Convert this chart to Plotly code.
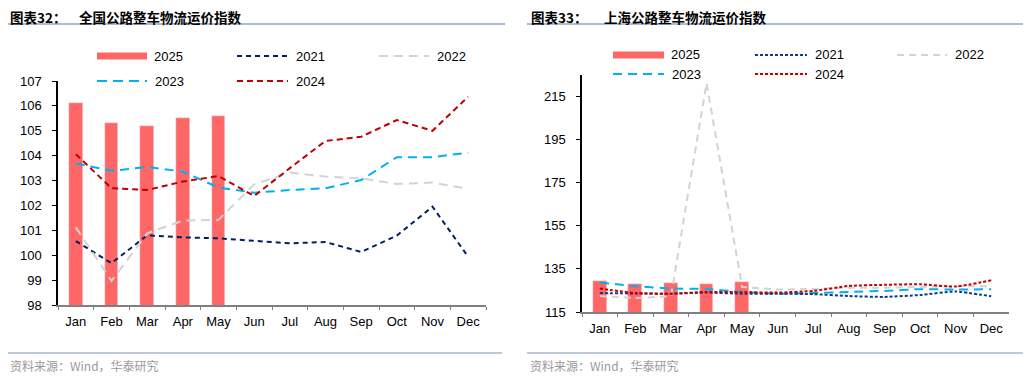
import plotly.graph_objects as go

months = ["Jan", "Feb", "Mar", "Apr", "May", "Jun", "Jul", "Aug", "Sep", "Oct", "Nov", "Dec"]

# Panel 32: national index
nat_2025 = [106.13, 105.31, 105.19, 105.50, 105.58]
nat_2021 = [100.57, 99.68, 100.80, 100.72, 100.68, 100.57, 100.48, 100.53, 100.13, 100.79, 101.95, 99.94]
nat_2022 = [101.12, 98.97, 100.88, 101.39, 101.42, 102.85, 103.32, 103.16, 103.09, 102.86, 102.92, 102.67]
nat_2023 = [103.69, 103.39, 103.55, 103.36, 102.72, 102.51, 102.62, 102.69, 103.02, 103.94, 103.94, 104.12]
nat_2024 = [104.06, 102.69, 102.62, 102.96, 103.18, 102.38, 103.50, 104.59, 104.76, 105.43, 105.00, 106.37]

# Panel 33: Shanghai index
sh_2025 = [129.4, 128.2, 128.5, 128.2, 128.7]
sh_2021 = [123.8, 123.6, 123.5, 124.0, 123.5, 123.5, 123.3, 122.4, 122.0, 122.9, 124.5, 122.3]
sh_2022 = [122.4, 121.5, 122.3, 221.2, 126.6, 125.4, 125.7, 126.3, 126.3, 126.8, 127.0, 127.0]
sh_2023 = [128.7, 127.0, 125.9, 125.7, 124.3, 123.5, 123.8, 124.3, 124.8, 125.6, 125.4, 125.6]
sh_2024 = [125.9, 123.8, 123.5, 124.3, 124.2, 124.0, 124.8, 127.1, 127.6, 127.9, 126.8, 129.7]

W, H = 1031, 378
OFF = 8  # page body margin offset
BAR = "#FF6666"
NAVY = "#002060"
NAVY2 = "#0E3C7E"
GRAY = "#D3D3D3"
BLUE = "#00B0F0"
RED = "#C00000"

fig = go.Figure()


def px(x):
    return (x - OFF) / W


def py(y):
    return 1 - (y - OFF) / H


# Left panel traces
fig.add_trace(go.Bar(x=months[:5], y=nat_2025, name="2025", marker_color=BAR, width=0.39,
                     xaxis="x", yaxis="y", showlegend=False))
fig.add_trace(go.Scatter(x=months, y=nat_2021, name="2021", mode="lines",
                         line=dict(color=NAVY, width=2, dash="5px,4px"), xaxis="x", yaxis="y", showlegend=False))
fig.add_trace(go.Scatter(x=months, y=nat_2022, name="2022", mode="lines",
                         line=dict(color=GRAY, width=2, dash="9px,6px"), xaxis="x", yaxis="y", showlegend=False))
fig.add_trace(go.Scatter(x=months, y=nat_2023, name="2023", mode="lines",
                         line=dict(color=BLUE, width=2, dash="9px,6px"), xaxis="x", yaxis="y", showlegend=False))
fig.add_trace(go.Scatter(x=months, y=nat_2024, name="2024", mode="lines",
                         line=dict(color=RED, width=2, dash="6px,4px"), xaxis="x", yaxis="y", showlegend=False))

# Right panel traces
fig.add_trace(go.Bar(x=months[:5], y=sh_2025, name="2025", marker_color=BAR, width=0.39,
                     xaxis="x2", yaxis="y2", showlegend=False))
fig.add_trace(go.Scatter(x=months, y=sh_2022, name="2022", mode="lines",
                         line=dict(color=GRAY, width=2, dash="7px,5px"), xaxis="x2", yaxis="y2", showlegend=False))
fig.add_trace(go.Scatter(x=months, y=sh_2023, name="2023", mode="lines",
                         line=dict(color=BLUE, width=2, dash="9px,6px", shape="spline", smoothing=0.5),
                         xaxis="x2", yaxis="y2", showlegend=False))
fig.add_trace(go.Scatter(x=months, y=sh_2021, name="2021", mode="lines",
                         line=dict(color=NAVY2, width=2, dash="3px,2px", shape="spline", smoothing=0.5),
                         xaxis="x2", yaxis="y2", showlegend=False))
fig.add_trace(go.Scatter(x=months, y=sh_2024, name="2024", mode="lines",
                         line=dict(color=RED, width=2, dash="3px,2px", shape="spline", smoothing=0.5),
                         xaxis="x2", yaxis="y2", showlegend=False))

tickfont = dict(family="Liberation Sans, Arial, sans-serif", size=13, color="#000000")

xcommon = dict(type="category", categoryorder="array", categoryarray=months, range=[-0.5, 11.5],
               showline=True, linecolor="#808080", linewidth=2, ticks="outside", ticklen=3,
               tickcolor="#808080", tickwidth=1, tickson="boundaries", showgrid=False, zeroline=False,
               tickfont=tickfont, fixedrange=True, ticklabelstandoff=3, automargin=False)
ycommon = dict(showline=True, linecolor="#000000", linewidth=1.5, ticks="outside", ticklen=4,
               tickcolor="#000000", showgrid=False, zeroline=False, tickfont=tickfont,
               fixedrange=True, ticklabelstandoff=8, automargin=False)

fig.update_layout(
    width=W, height=H,
    margin=dict(l=0, r=0, t=0, b=0, autoexpand=False),
    paper_bgcolor="white", plot_bgcolor="white",
    font=dict(family="Liberation Sans, Arial, sans-serif"),
    showlegend=False,
    bargap=0,
    xaxis=dict(domain=[px(58), px(486)], anchor="y", **xcommon),
    yaxis=dict(domain=[py(305), py(81)], anchor="x", range=[98, 107], tickvals=list(range(98, 108)), **ycommon),
    xaxis2=dict(domain=[px(582), px(1009)], anchor="y2", **xcommon),
    yaxis2=dict(domain=[py(312), py(75)], anchor="x2", range=[115, 225], tickvals=list(range(115, 216, 20)), **ycommon),
)

shapes = []
annotations = []

cjk = "Noto Sans CJK SC, sans-serif"


def text(x, y, s, size=13, color="#000000", family="Liberation Sans, Arial, sans-serif", bold=False):
    annotations.append(dict(x=px(x), y=py(y), xref="paper", yref="paper", text=("<b>%s</b>" % s) if bold else s,
                            showarrow=False, xanchor="left", yanchor="middle", borderpad=0,
                            font=dict(size=size, color=color, family=family)))


# Titles and rules
for x0, x1, num, title, tx in [(5, 505, "32", "全国公路整车物流运价指数", 78),
                               (527, 1026, "33", "上海公路整车物流运价指数", 603)]:
    text(max(x0 + 3, OFF + 1), 17, "图表" + num + "：", size=13.5, family=cjk, bold=True)
    text(tx, 17, title, size=13.5, family=cjk, bold=True)
    shapes.append(dict(type="line", xref="paper", yref="paper", x0=px(max(x0, OFF)), x1=px(x1), y0=py(24), y1=py(24),
                       line=dict(color="#8EA6C8", width=1.5)))
    shapes.append(dict(type="line", xref="paper", yref="paper", x0=px(max(x0, OFF)), x1=px(x0 + 497), y0=py(353), y1=py(353),
                       line=dict(color="#A8B9D0", width=1.5)))
    text(max(x0 + 2, OFF + 1), 365, "资料来源：Wind，华泰研究", size=12, color="#9A9A9A", family=cjk)


# Custom legends
def legend_bar(x0, x1, y, label):
    shapes.append(dict(type="rect", xref="paper", yref="paper", x0=px(x0), x1=px(x1), y0=py(y + 3.5), y1=py(y - 3.5),
                       fillcolor=BAR, line=dict(width=0)))
    text(x1 + 6, y, label)


def legend_line(x0, x1, y, label, color, dash):
    shapes.append(dict(type="line", xref="paper", yref="paper", x0=px(x0), x1=px(x1), y0=py(y), y1=py(y),
                       line=dict(color=color, width=2, dash=dash)))
    text(x1 + 7, y, label)


# Left legend
legend_bar(97, 147, 56, "2025")
legend_line(237, 288, 56, "2021", NAVY, "5px,4px")
legend_line(379, 429, 56, "2022", GRAY, "9px,6px")
legend_line(97, 147, 81, "2023", BLUE, "10px,6px")
legend_line(237, 288, 81, "2024", RED, "6px,4px")

# Right legend
legend_bar(613, 664, 55, "2025")
legend_line(755, 807, 55, "2021", NAVY2, "3px,2px")
legend_line(897, 947, 55, "2022", GRAY, "7px,5px")
legend_line(613, 664, 74, "2023", BLUE, "9px,6px")
legend_line(755, 807, 74, "2024", RED, "3px,2px")

fig.update_layout(shapes=shapes, annotations=annotations)

fig.write_html("out.html")
